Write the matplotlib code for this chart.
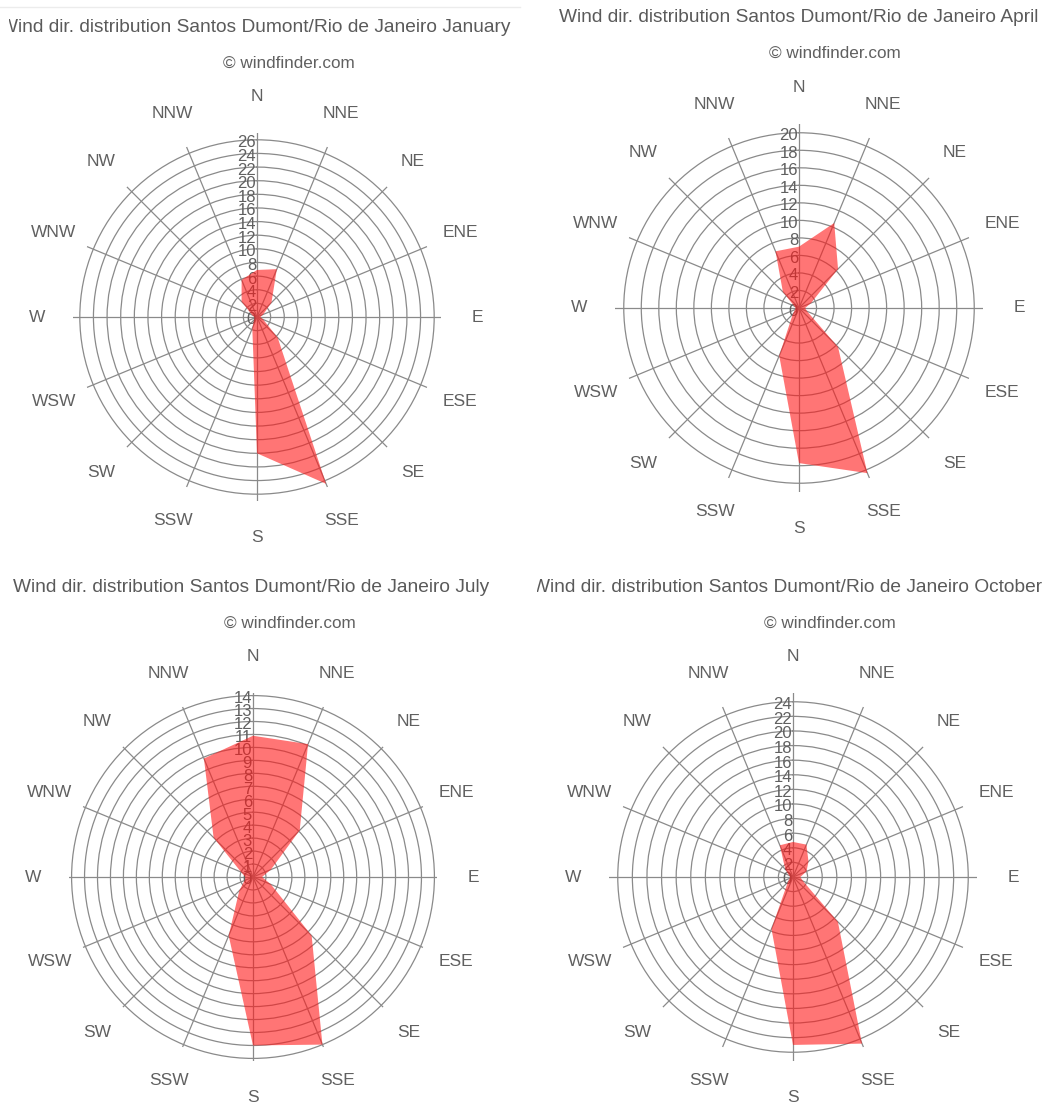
import numpy as np
import matplotlib
matplotlib.use("Agg")
import matplotlib.pyplot as plt
from matplotlib.transforms import offset_copy
from matplotlib.lines import Line2D

plt.rcParams["font.family"] = ["Liberation Sans", "DejaVu Sans"]

# Wind direction frequencies (%) per compass sector
directions = ["N", "NNE", "NE", "ENE", "E", "ESE", "SE", "SSE",
              "S", "SSW", "SW", "WSW", "W", "WNW", "NW", "NNW"]
months = ["January", "April", "July", "October"]
jan_vals = [6.9, 7.6, 3.0, 1.0, 0.5, 1.0, 4.3, 26.5, 20.0, 1.8, 0.6, 0.4, 0.4, 0.8, 3.2, 5.9]
apr_vals = [7.0, 10.5, 6.3, 1.5, 0.7, 1.0, 6.3, 20.4, 17.7, 5.9, 1.0, 0.5, 0.4, 0.6, 2.6, 7.0]
jul_vals = [10.9, 11.1, 5.1, 1.5, 0.7, 1.5, 6.4, 14.0, 13.0, 4.9, 1.5, 0.7, 0.6, 1.0, 4.3, 9.9]
oct_vals = [4.8, 4.8, 3.0, 2.0, 1.0, 1.5, 8.7, 24.7, 23.0, 7.7, 1.0, 0.5, 0.4, 0.6, 1.5, 4.7]
axis_max = [27, 21, 14.2, 25.2]
tick_step = [2, 2, 1, 2]

station = "Santos Dumont/Rio de Janeiro"
credit = "\u00a9 windfinder.com"

W, H = 1049, 1106
fig = plt.figure(figsize=(W / 100, H / 100), dpi=100)
fig.patch.set_facecolor("white")

# panel layout in pixels: (panel box x, y, w, h), chart centre, title x/y, subtitle x/y
panels = [
    dict(box=(9, 0, 515, 553), c=(257, 317), t=(255, 27), s=(289, 63)),
    dict(box=(537, 0, 512, 553), c=(799, 308), t=(799, 17), s=(835, 53)),
    dict(box=(9, 553, 515, 553), c=(253, 877), t=(251, 588), s=(290, 623)),
    dict(box=(537, 553, 512, 553), c=(793, 877), t=(787, 588), s=(830, 623)),
]
R = 184  # radius of the polar pane in pixels

text_col = "#606060"
grid_col = "#8a8a8a"

series = [jan_vals, apr_vals, jul_vals, oct_vals]
theta = np.deg2rad(np.arange(len(directions)) * 22.5)

for i, p in enumerate(panels):
    bx, by, bw, bh = p["box"]
    holder = fig.add_axes([bx / W, 1 - (by + bh) / H, bw / W, bh / H])
    holder.axis("off")
    holder.set_zorder(0)

    def to_ax(px, py):
        return (px - bx) / bw, 1 - (py - by) / bh

    tx, ty = to_ax(*p["t"])
    holder.text(tx, ty, f"Wind dir. distribution {station} {months[i]}",
                transform=holder.transAxes, ha="center", va="center",
                fontsize=13.8, color="#5a5a5a", clip_on=True)
    sx, sy = to_ax(*p["s"])
    holder.text(sx, sy, credit, transform=holder.transAxes, ha="center",
                va="center", fontsize=12.3, color=text_col, clip_on=True)

    cx, cy = p["c"]
    ax = fig.add_axes([(cx - R) / W, 1 - (cy + R) / H, 2 * R / W, 2 * R / H],
                      projection="polar")
    ax.set_zorder(1)
    ax.patch.set_alpha(0)
    ax.set_theta_zero_location("N")
    ax.set_theta_direction(-1)
    rmax = axis_max[i]
    ax.set_ylim(0, rmax)
    ticks = np.arange(0, rmax + 1e-9, tick_step[i])
    ax.set_yticks(ticks[1:])
    ax.set_yticklabels([])
    ax.set_xticks(theta)
    ax.set_xticklabels([])
    ax.tick_params(length=0)
    ax.grid(True, color=grid_col, linewidth=0.9)
    ax.spines["polar"].set_visible(False)
    ax.set_axisbelow(True)

    vals = np.asarray(series[i])
    ax.fill(np.append(theta, theta[0]), np.append(vals, vals[0]),
            color="#ff1a1a", alpha=0.6, linewidth=0, zorder=3)

    lab_tr = offset_copy(ax.transData, fig=fig, x=-1, y=-3, units="dots")
    for v in ticks:
        ax.text(0, v, f"{v:g}", transform=lab_tr, ha="right", va="center",
                fontsize=12, color=text_col, zorder=2)

    for th, name in zip(theta, directions):
        ax.text(th, rmax * 1.196, name, ha="center", va="center",
                fontsize=12.5, color=text_col, clip_on=False)

fig.add_artist(Line2D([0, 520 / W], [1 - 7 / H, 1 - 7 / H], color="#ececec",
                      linewidth=1, transform=fig.transFigure))

fig.savefig("out.png", dpi=100, facecolor="white")
